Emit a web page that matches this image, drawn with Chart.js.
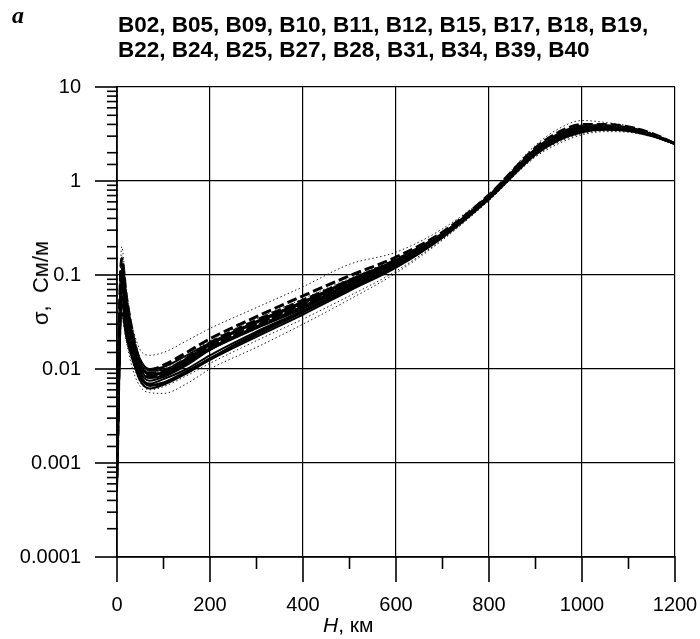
<!DOCTYPE html>
<html><head><meta charset="utf-8">
<script src="https://cdn.jsdelivr.net/npm/chart.js@4/dist/chart.umd.min.js"></script>
<style>
html,body{margin:0;padding:0;background:#fff;}
#wrap{position:relative;width:700px;height:639px;overflow:hidden;background:#fff;}
canvas{position:absolute;left:0;top:0;}
.t{position:absolute;font-family:"Liberation Sans",Arial,sans-serif;color:#000;white-space:nowrap;}
</style></head><body>
<div id="wrap">
<canvas id="c" width="700" height="639"></canvas>
<div class="t" style="left:12px;top:2px;font-family:'Liberation Serif',serif;font-style:italic;font-weight:bold;font-size:24px;">a</div>
<div class="t" id="title" style="left:118px;top:12px;font-size:22.5px;line-height:25px;font-weight:bold;"></div>
<div class="t" id="ytitle" style="left:41px;top:283px;font-size:22px;line-height:22px;transform:translate(-50%,-50%) rotate(-90deg);">σ,&nbsp; См/м</div>
<div class="t" id="xtitle" style="left:323px;top:613px;font-size:21px;line-height:24px;"><i>H</i>, км</div>
</div>
<script>
// Depth, km
const H = [0,10,20,35,50,70,100,150,200,300,400,500,600,700,800,900,950,1000,1050,1100,1150,1200];
// Conductivity profiles, S/m
const B02 = [0.0010,0.12,0.05,0.018,0.010,0.0082,0.0090,0.012,0.017,0.029,0.048,0.083,0.140,0.27,0.68,2.10,3.00,3.70,3.80,3.60,3.10,2.50];
const B05 = [0.0008,0.20,0.07,0.025,0.013,0.0095,0.0100,0.014,0.020,0.034,0.056,0.092,0.150,0.28,0.70,2.20,3.20,3.90,3.90,3.70,3.15,2.50];
const B09 = [0.0015,0.06,0.03,0.014,0.0085,0.0070,0.0078,0.010,0.014,0.025,0.042,0.075,0.130,0.26,0.66,2.00,2.85,3.50,3.65,3.50,3.05,2.50];
const B10 = [0.0006,0.09,0.04,0.016,0.0092,0.0075,0.0082,0.011,0.016,0.028,0.046,0.080,0.135,0.265,0.67,2.05,2.95,3.60,3.70,3.55,3.08,2.50];
const B11 = [0.0020,0.15,0.06,0.022,0.012,0.0090,0.0095,0.013,0.019,0.033,0.054,0.088,0.145,0.275,0.69,2.15,3.10,3.80,3.85,3.65,3.12,2.50];
const B12 = [0.0012,0.05,0.025,0.012,0.0075,0.0062,0.0068,0.0090,0.0125,0.022,0.038,0.068,0.120,0.25,0.64,1.90,2.70,3.30,3.50,3.40,3.00,2.50];
const B15 = [0.0009,0.10,0.045,0.020,0.012,0.0098,0.0110,0.015,0.021,0.036,0.060,0.098,0.155,0.285,0.71,2.25,3.30,4.00,4.00,3.75,3.20,2.50];
const B17 = [0.0030,0.08,0.04,0.019,0.011,0.0088,0.0092,0.0125,0.018,0.031,0.050,0.085,0.140,0.27,0.68,2.10,3.05,3.75,3.80,3.60,3.10,2.50];
const B18 = [0.0011,0.04,0.022,0.012,0.0080,0.0068,0.0072,0.0095,0.013,0.023,0.040,0.070,0.125,0.255,0.65,1.95,2.75,3.40,3.55,3.45,3.02,2.50];
const B19 = [0.0007,0.13,0.055,0.021,0.0115,0.0088,0.0090,0.012,0.0165,0.028,0.046,0.080,0.137,0.268,0.675,2.08,2.98,3.65,3.72,3.58,3.09,2.50];
const B22 = [0.0018,0.07,0.035,0.017,0.010,0.0080,0.0085,0.0115,0.016,0.027,0.044,0.078,0.132,0.262,0.67,2.00,2.90,3.55,3.68,3.52,3.06,2.50];
const B24 = [0.0005,0.11,0.05,0.020,0.0125,0.0100,0.0105,0.014,0.019,0.032,0.052,0.087,0.143,0.272,0.69,2.15,3.15,3.85,3.88,3.68,3.14,2.50];
const B25 = [0.0025,0.035,0.02,0.011,0.0072,0.0060,0.0065,0.0085,0.0115,0.020,0.034,0.060,0.110,0.24,0.62,1.85,2.60,3.20,3.42,3.35,2.98,2.50];
const B27 = [0.0013,0.16,0.065,0.026,0.016,0.0140,0.0150,0.020,0.027,0.045,0.075,0.130,0.175,0.31,0.73,2.40,3.60,4.40,4.20,3.85,3.25,2.50];
const B28 = [0.0009,0.06,0.028,0.013,0.0082,0.0066,0.0070,0.0092,0.013,0.024,0.041,0.072,0.128,0.258,0.66,1.98,2.80,3.45,3.60,3.48,3.04,2.50];
const B31 = [0.0016,0.09,0.042,0.018,0.0105,0.0085,0.0088,0.012,0.017,0.030,0.049,0.084,0.140,0.27,0.68,2.12,3.02,3.72,3.78,3.60,3.10,2.50];
const B34 = [0.0010,0.045,0.02,0.0095,0.0065,0.0056,0.0055,0.0070,0.0100,0.017,0.030,0.055,0.105,0.235,0.62,1.80,2.50,3.10,3.35,3.30,2.96,2.50];
const B39 = [0.0014,0.10,0.048,0.021,0.0125,0.0096,0.0098,0.013,0.0185,0.032,0.052,0.088,0.145,0.275,0.69,2.20,3.20,3.90,3.90,3.70,3.15,2.50];
const B40 = [0.0022,0.055,0.03,0.016,0.011,0.0092,0.0095,0.012,0.016,0.027,0.045,0.079,0.135,0.265,0.67,2.05,2.95,3.60,3.70,3.55,3.08,2.50];

const seriesNames = ["B02","B05","B09","B10","B11","B12","B15","B17","B18","B19","B22","B24","B25","B27","B28","B31","B34","B39","B40"];
const seriesValues = [B02,B05,B09,B10,B11,B12,B15,B17,B18,B19,B22,B24,B25,B27,B28,B31,B34,B39,B40];
const yTickLabels = {"-4":"0.0001","-3":"0.001","-2":"0.01","-1":"0.1","0":"1","1":"10"};
const xTickLabels = [0,200,400,600,800,1000,1200];

const dottedSet = ["B05","B25","B27","B34","B40"];
const dashedSet = ["B02","B11","B15","B19","B31"];

document.getElementById('title').innerHTML =
  seriesNames.slice(0,10).join(', ') + ',<br>' + seriesNames.slice(10).join(', ');

function isPow10(v){ const l=Math.log10(v); return Math.abs(l-Math.round(l))<1e-6; }

const datasets = seriesNames.map((name,i)=>{
  const dotted = dottedSet.includes(name), dashed = dashedSet.includes(name);
  return {
    label: name,
    data: H.map((h,j)=>({x:h,y:seriesValues[i][j]})),
    borderColor: dotted ? '#222' : '#000',
    borderWidth: dotted ? 1 : (dashed ? 3 : 2),
    borderDash: dotted ? [1.5,2.5] : (dashed ? [10,4] : []),
    pointRadius: 0,
    fill: false,
    cubicInterpolationMode: 'monotone'
  };
});

const tickMarks = {
  id:'tickMarks',
  afterDraw(chart){
    const {ctx, chartArea:a, scales:{x,y}} = chart;
    ctx.save(); ctx.strokeStyle='#000'; ctx.lineWidth=1.6;
    y.ticks.forEach(t=>{
      const p = y.getPixelForValue(t.value);
      const len = isPow10(t.value) ? 22 : 10;
      ctx.beginPath(); ctx.moveTo(a.left-len,p); ctx.lineTo(a.left+1,p); ctx.stroke();
    });
    x.ticks.forEach(t=>{
      const p = x.getPixelForValue(t.value);
      const len = (t.value % 200 === 0) ? 25 : 12;
      ctx.beginPath(); ctx.moveTo(p,a.bottom-1); ctx.lineTo(p,a.bottom+len); ctx.stroke();
    });
    ctx.restore();
  }
};

new Chart(document.getElementById('c'), {
  type:'line',
  data:{datasets},
  options:{
    responsive:false,
    animation:false,
    events:[],
    layout:{padding:{top:87,right:25,left:0,bottom:0}},
    plugins:{legend:{display:false},tooltip:{enabled:false},title:{display:false}},
    scales:{
      x:{
        type:'linear', min:0, max:1200,
        afterFit(s){ s.height = 82; s.paddingLeft = 0; s.paddingRight = 0; },
        ticks:{stepSize:100, autoSkip:false, maxRotation:0, padding:36, color:'#000',
          font:{family:"'Liberation Sans', Arial, sans-serif", size:20},
          callback:(v)=> xTickLabels.includes(v) ? String(v) : ''},
        grid:{drawTicks:false, lineWidth:1.2,
          color:(c)=> (c.tick && c.tick.value % 200 === 0) ? '#000' : 'rgba(0,0,0,0)'},
        border:{display:true, color:'#000', width:1.8}
      },
      y:{
        type:'logarithmic', min:0.0001, max:10,
        afterFit(s){ s.width = 117; s.paddingTop = 0; s.paddingBottom = 0; },
        ticks:{autoSkip:false, padding:36, color:'#000',
          font:{family:"'Liberation Sans', Arial, sans-serif", size:20},
          callback:(v)=> isPow10(v) ? yTickLabels[String(Math.round(Math.log10(v)))] : ''},
        grid:{drawTicks:false, lineWidth:1.2,
          color:(c)=> (c.tick && isPow10(c.tick.value)) ? '#000' : 'rgba(0,0,0,0)'},
        border:{display:true, color:'#000', width:1.8}
      }
    }
  },
  plugins:[tickMarks]
});
</script>
</body></html>
